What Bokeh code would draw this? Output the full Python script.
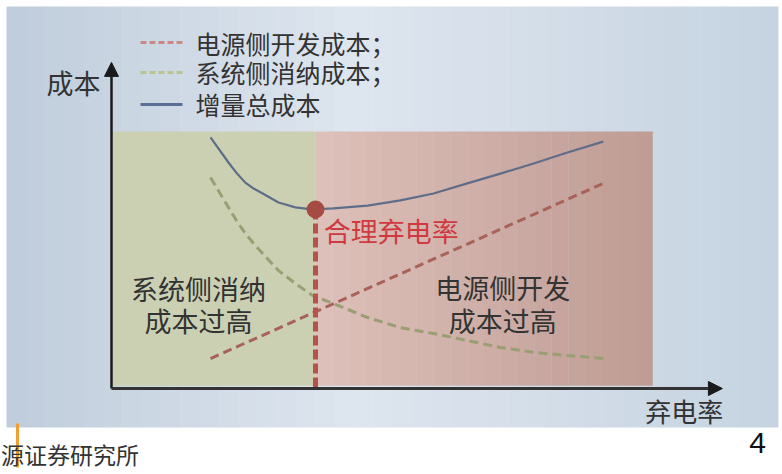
import numpy as np
from bokeh.plotting import figure
from bokeh.models import Range1d, Arrow, NormalHead
from bokeh.core.properties import value
from bokeh.embed import file_html
from bokeh.resources import INLINE

# ---- data (conceptual curves) ----
rate = [1.82, 2.15, 2.30, 2.46, 2.62, 2.78, 3.07, 3.38, 3.69, 4.08, 4.71, 5.31, 5.92, 6.54, 7.15, 7.76, 8.38, 9.04]
total_cost = [9.73, 8.76, 8.35, 7.98, 7.74, 7.56, 7.21, 7.02, 6.94, 6.98, 7.09, 7.29, 7.56, 7.95, 8.33, 8.72, 9.15, 9.57]
system_cost = [8.18, 7.02, 6.50, 6.01, 5.60, 5.23, 4.57, 4.07, 3.61, 3.29, 2.75, 2.36, 2.13, 1.86, 1.59, 1.40, 1.28, 1.16]
source_rate = [1.82, 9.04]
source_cost = [1.16, 7.95]
optimal_rate = 3.75
optimal_cost = 6.94
legend_labels = ["电源侧开发成本；", "系统侧消纳成本；", "增量总成本"]
zone_left = ["系统侧消纳", "成本过高"]
zone_right = ["电源侧开发", "成本过高"]

FONT = value("Noto Sans CJK SC")

p = figure(width=782, height=474, output_backend="svg", toolbar_location=None,
           x_range=Range1d(-2.0404, 12.3346), y_range=Range1d(-3.3333, 15.0388),
           min_border=0, min_border_left=0, min_border_right=0,
           min_border_top=0, min_border_bottom=0)
p.axis.visible = False
p.grid.visible = False
p.outline_line_color = None
p.background_fill_color = "white"
p.border_fill_color = "white"


def lerp(c1, c2, t):
    return "#%02x%02x%02x" % tuple(int(round(a + (b - a) * t)) for a, b in zip(c1, c2))

# background (horizontal gradient strips)
n = 40
edges = np.linspace(-1.93, 12.26, n + 1)
cols = []
for i in range(n):
    t = i / (n - 1)
    if t < 0.45:
        cols.append(lerp((192, 205, 220), (222, 230, 239), t / 0.45))
    else:
        cols.append(lerp((222, 230, 239), (198, 211, 225), (t - 0.45) / 0.55))
p.quad(left=edges[:-1], right=np.append(edges[1:-1] + 0.01, edges[-1]), top=14.81, bottom=-1.51,
       fill_color=cols, line_color=None)

# green zone
p.quad(left=0.02, right=optimal_rate, top=9.96, bottom=0.11,
       fill_color="#cbd0b3", line_color=None)
# pink zone gradient
m = 20
pe = np.linspace(optimal_rate, 9.945, m + 1)
pc = [lerp((221, 192, 185), (191, 156, 148), i / (m - 1)) for i in range(m)]
p.quad(left=pe[:-1], right=pe[1:] + 0.005, top=9.96, bottom=0.11,
       fill_color=pc, line_color=None)

# curves
p.line(rate, system_cost, line_color="#9a9e72", line_width=3, line_dash="9 5")
p.line(source_rate, source_cost, line_color="#a9625a", line_width=3, line_dash="9 5")
p.line(rate, total_cost, line_color="#5f6d88", line_width=2.2, line_join="round")

# optimal point & vertical dashed line
p.segment(x0=optimal_rate, y0=optimal_cost, x1=optimal_rate, y1=0.0,
          line_color="#b3534b", line_width=5, line_dash="10 4")
p.scatter([optimal_rate], [optimal_cost], size=17, fill_color="#a54b42",
          line_color="#a54b42")
p.text([3.90], [6.12], text=["合理弃电率"], text_font=FONT, text_font_size="27px",
       text_color="#d0393f", text_baseline="middle", text_align="left")

# zone labels
p.text([1.60, 1.60], [3.88, 2.64], text=zone_left, text_font=FONT, text_font_size="27px",
       text_color="#333333", text_baseline="middle", text_align="center")
p.text([7.19, 7.19], [3.91, 2.64], text=zone_right, text_font=FONT, text_font_size="27px",
       text_color="#333333", text_baseline="middle", text_align="center")

# axes with arrows
p.add_layout(Arrow(end=NormalHead(size=14, fill_color="#1a1a1a", line_color="#1a1a1a"),
                   x_start=0.0, y_start=0.0, x_end=0.0, y_end=12.64,
                   line_color="#1a1a1a", line_width=2.5))
p.add_layout(Arrow(end=NormalHead(size=14, fill_color="#1a1a1a", line_color="#1a1a1a"),
                   x_start=0.0, y_start=0.0, x_end=11.23, y_end=0.0,
                   line_color="#333333", line_width=3))
p.text([-0.70], [11.86], text=["成本"], text_font=FONT, text_font_size="27px",
       text_color="#333333", text_baseline="middle", text_align="center")
p.text([10.53], [-0.85], text=["弃电率"], text_font=FONT, text_font_size="26px",
       text_color="#333333", text_baseline="middle", text_align="center")

# legend (manual)
leg_y = [13.41, 12.25, 11.01]
leg_col = ["#c98a86", "#b9c48f", "#5a6f95"]
leg_dash = ["6 3", "6 3", "solid"]
for yy, c, d in zip(leg_y, leg_col, leg_dash):
    p.segment(x0=0.533, y0=yy, x1=1.305, y1=yy, line_color=c, line_width=3, line_dash=d)
p.text([1.544] * 3, leg_y, text=legend_labels, text_font=FONT, text_font_size="25px",
       text_color="#333333", text_baseline="middle", text_align="left")

# footer
p.segment(x0=-1.728, y0=-1.36, x1=-1.728, y1=-3.06, line_color="#f0a030", line_width=3)
p.text([-2.03], [-2.55], text=["源证券研究所"], text_font=FONT, text_font_size="23px",
       text_color="#333333", text_baseline="middle", text_align="left")
p.text([11.875], [-2.13], text=["4"], text_font=value("Liberation Sans"), text_font_size="30px",
       text_color="#111111", text_baseline="middle", text_align="center")

open("out.html", "w").write(file_html(p, INLINE))
